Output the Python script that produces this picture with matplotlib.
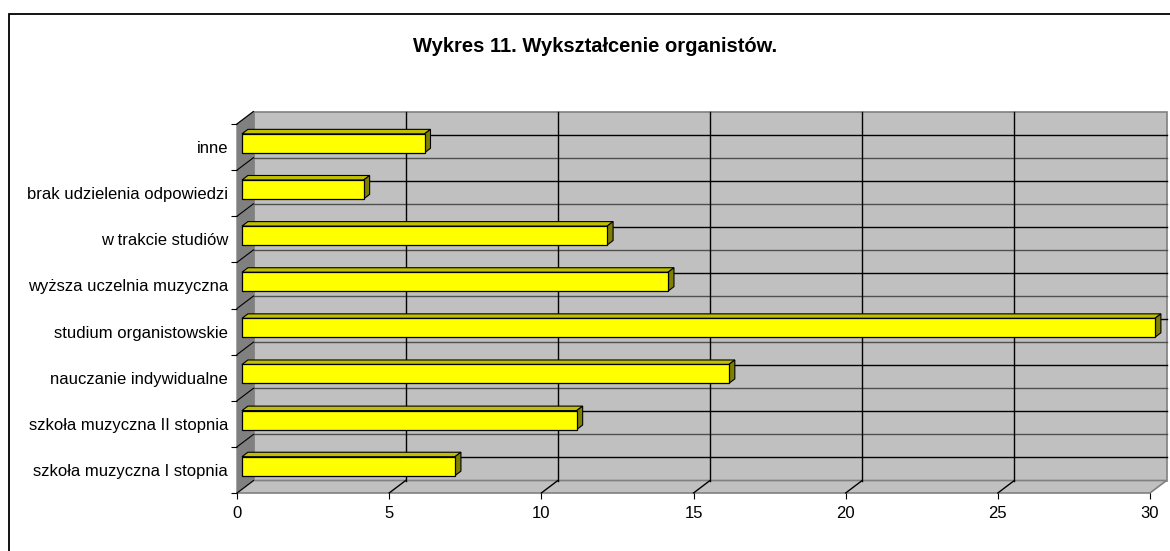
import matplotlib
matplotlib.use("Agg")
import matplotlib.pyplot as plt
from matplotlib.patches import Polygon, Rectangle

plt.rcParams["font.family"] = ["Liberation Sans", "DejaVu Sans"]

# Data (bottom to top, as drawn)
categories = [
    "szkoła muzyczna I stopnia",
    "szkoła muzyczna II stopnia",
    "nauczanie indywidualne",
    "studium organistowskie",
    "wyższa uczelnia muzyczna",
    "w trakcie studiów",
    "brak udzielenia odpowiedzi",
    "inne",
]
values = [7, 11, 16, 30, 14, 12, 4, 6]
x_ticks = [0, 5, 10, 15, 20, 25, 30]
title = "Wykres 11. Wykształcenie organistów."

W, H, DPI = 1170, 551, 100
fig = plt.figure(figsize=(W / DPI, H / DPI), dpi=DPI)

# front plane of the 3D box, in pixels
left_px, right_px, top_px, bottom_px = 237, 1150, 124, 493
ax = fig.add_axes([left_px / W, 1 - bottom_px / H,
                   (right_px - left_px) / W, (bottom_px - top_px) / H])
xmax = x_ticks[-1]
n = len(categories)
ax.set_xlim(0, xmax)
ax.set_ylim(0, n)

# depth offset of the box (pixels -> data units)
px_x = xmax / (right_px - left_px)
px_y = n / (bottom_px - top_px)
DX, DY = 16.5 * px_x, 12.5 * px_y

wall = "#c0c0c0"
side_wall = "#808080"
edge = "#808080"

# back wall
ax.add_patch(Rectangle((DX, DY), xmax, n, facecolor=wall, edgecolor=edge,
                       lw=1.2, clip_on=False, zorder=1))
# left wall
ax.add_patch(Polygon([(0, 0), (DX, DY), (DX, n + DY), (0, n)], closed=True,
                     facecolor=side_wall, edgecolor=edge, lw=1, clip_on=False, zorder=1))
# floor
ax.add_patch(Polygon([(0, 0), (xmax, 0), (xmax + DX, DY), (DX, DY)], closed=True,
                     facecolor=wall, edgecolor=edge, lw=1.2, clip_on=False, zorder=1))

# horizontal lines on back wall (every half category)
for k in range(1, 2 * n):
    y = k / 2 + DY
    c = "black" if k % 2 == 1 else "#505050"
    ax.plot([DX, xmax + DX], [y, y], color=c, lw=1, clip_on=False, zorder=2)

# value gridlines on back wall and floor
for v in x_ticks[1:-1]:
    ax.plot([v + DX, v + DX], [DY, n + DY], color="black", lw=1, clip_on=False, zorder=2)
    ax.plot([v, v + DX], [0, DY], color="black", lw=1, clip_on=False, zorder=2)

# category lines on left wall
for k in range(0, n + 1):
    ax.plot([0, DX], [k, k + DY], color="black", lw=0.8, clip_on=False, zorder=2)

# bars
t0, t1 = 0.30, 0.36
bar_h = 0.41
front_c, top_c, side_c = "#ffff00", "#c0c000", "#808000"
for i, v in enumerate(values):
    x0 = t0 * DX
    y0 = i + 0.5 - bar_h / 2 + t0 * DY
    bdx, bdy = t1 * DX, t1 * DY
    top = Polygon([(x0, y0 + bar_h), (x0 + v, y0 + bar_h),
                   (x0 + v + bdx, y0 + bar_h + bdy), (x0 + bdx, y0 + bar_h + bdy)],
                  closed=True, facecolor=top_c, edgecolor="black", lw=0.8,
                  clip_on=False, zorder=3)
    side = Polygon([(x0 + v, y0), (x0 + v + bdx, y0 + bdy),
                    (x0 + v + bdx, y0 + bar_h + bdy), (x0 + v, y0 + bar_h)],
                   closed=True, facecolor=side_c, edgecolor="black", lw=0.8,
                   clip_on=False, zorder=3)
    front = Rectangle((x0, y0), v, bar_h, facecolor=front_c, edgecolor="black",
                      lw=0.9, clip_on=False, zorder=4)
    ax.add_patch(top)
    ax.add_patch(side)
    ax.add_patch(front)

# axes / ticks
for s in ax.spines.values():
    s.set_visible(False)
ax.set_xticks(x_ticks)
ax.set_xticklabels([str(v) for v in x_ticks])
ax.tick_params(axis="x", direction="out", length=4, width=0.8, color="black",
               pad=5, labelsize=12)
ax.set_yticks(range(n + 1))
ax.set_yticklabels([])
ax.set_yticks([i + 0.5 for i in range(n)], categories, minor=True)
ax.tick_params(axis="y", which="major", direction="out", length=4, width=0.8,
               color="black")
ax.tick_params(axis="y", which="minor", length=0, pad=6.5, labelsize=12)

# title and chart border
fig.text(595 / W, 1 - 47 / H, title, ha="center", va="center",
         fontsize=14.5, fontweight="bold")
fig.patches.append(Rectangle((9 / W, -0.05), 1.1, 1 - 14 / H + 0.05,
                             transform=fig.transFigure, fill=False,
                             edgecolor="black", lw=1.3))

fig.savefig("out.png", dpi=DPI)
